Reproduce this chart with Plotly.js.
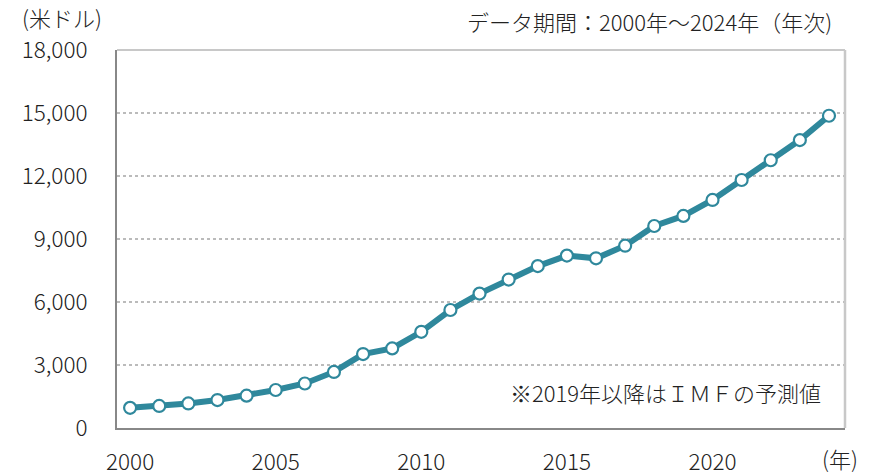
<!DOCTYPE html>
<html>
<head>
<meta charset="utf-8">
<script src="https://cdn.plot.ly/plotly-3.0.1.min.js"></script>
<style>
  html, body { margin: 0; padding: 0; background: #fff; }
  #chart { width: 872px; height: 476px; }
</style>
</head>
<body>
<div id="chart"></div>
<script>
// 年次データ (米ドル)
var years = [2000, 2001, 2002, 2003, 2004, 2005, 2006, 2007, 2008, 2009,
             2010, 2011, 2012, 2013, 2014, 2015, 2016, 2017, 2018, 2019,
             2020, 2021, 2022, 2023, 2024];
var values = [960, 1050, 1170, 1330, 1540, 1810, 2120, 2670, 3520, 3790,
              4580, 5620, 6400, 7070, 7710, 8210, 8080, 8680, 9620, 10100,
              10860, 11810, 12750, 13710, 14870];

var yTicks = [0, 3000, 6000, 9000, 12000, 15000, 18000];
var yTickText = ["0", "3,000", "6,000", "9,000", "12,000", "15,000", "18,000"];
var xTicks = [2000, 2005, 2010, 2015, 2020];

var font = "Noto Sans CJK JP";
var teal = "#2f889c";
var tickFont = {family: font, size: 22.5, color: "#222", weight: 300};
var noteFont = {family: font, size: 22, color: "#222", weight: 300};

var trace = {
  x: years,
  y: values,
  type: "scatter",
  mode: "lines+markers",
  line: {color: teal, width: 6},
  marker: {size: 12, color: "#fff", line: {color: teal, width: 2.2}},
  hoverinfo: "x+y"
};

var layout = {
  width: 872,
  height: 476,
  margin: {l: 117, r: 27, t: 50, b: 48},
  paper_bgcolor: "#fff",
  plot_bgcolor: "#fff",
  showlegend: false,
  font: {family: font, size: 21, color: "#222"},
  xaxis: {
    range: [1999.55, 2024.55],
    tickvals: xTicks,
    ticks: "outside",
    ticklen: 13,
    tickcolor: "rgba(0,0,0,0)",
    showgrid: false,
    zeroline: false,
    showline: true,
    linecolor: "#888",
    linewidth: 2,
    tickfont: tickFont
  },
  yaxis: {
    range: [0, 18000],
    tickvals: yTicks,
    ticktext: yTickText,
    ticks: "outside",
    ticklen: 23,
    tickcolor: "rgba(0,0,0,0)",
    showgrid: true,
    gridcolor: "#bbb",
    gridwidth: 2,
    griddash: "dot",
    zeroline: false,
    showline: true,
    linecolor: "#888",
    linewidth: 2,
    tickfont: tickFont
  },
  shapes: [
    // 上と右の枠線
    {type: "line", xref: "paper", yref: "paper", x0: 0, x1: 1, y0: 1, y1: 1,
     line: {color: "#c8c8c8", width: 2}},
    {type: "line", xref: "paper", yref: "paper", x0: 1, x1: 1, y0: 0, y1: 1,
     line: {color: "#c8c8c8", width: 2.5}}
  ],
  annotations: [
    {text: "(米ドル)", xref: "paper", yref: "paper", x: -0.133, y: 1.087,
     xanchor: "left", yanchor: "middle", showarrow: false, font: noteFont},
    {text: "データ期間：2000年～2024年（年次)", xref: "paper", yref: "paper",
     x: 0.985, y: 1.077, xanchor: "right", yanchor: "middle", showarrow: false,
     font: noteFont},
    {text: "※2019年以降はＩＭＦの予測値", xref: "paper", yref: "paper",
     x: 0.97, y: 0.095, xanchor: "right", yanchor: "middle", showarrow: false,
     font: noteFont},
    {text: "(年)", xref: "paper", yref: "paper", x: 1.02, y: -0.08,
     xanchor: "right", yanchor: "middle", showarrow: false, font: noteFont}
  ]
};

Plotly.newPlot("chart", [trace], layout, {displayModeBar: false, staticPlot: true});
</script>
</body>
</html>
